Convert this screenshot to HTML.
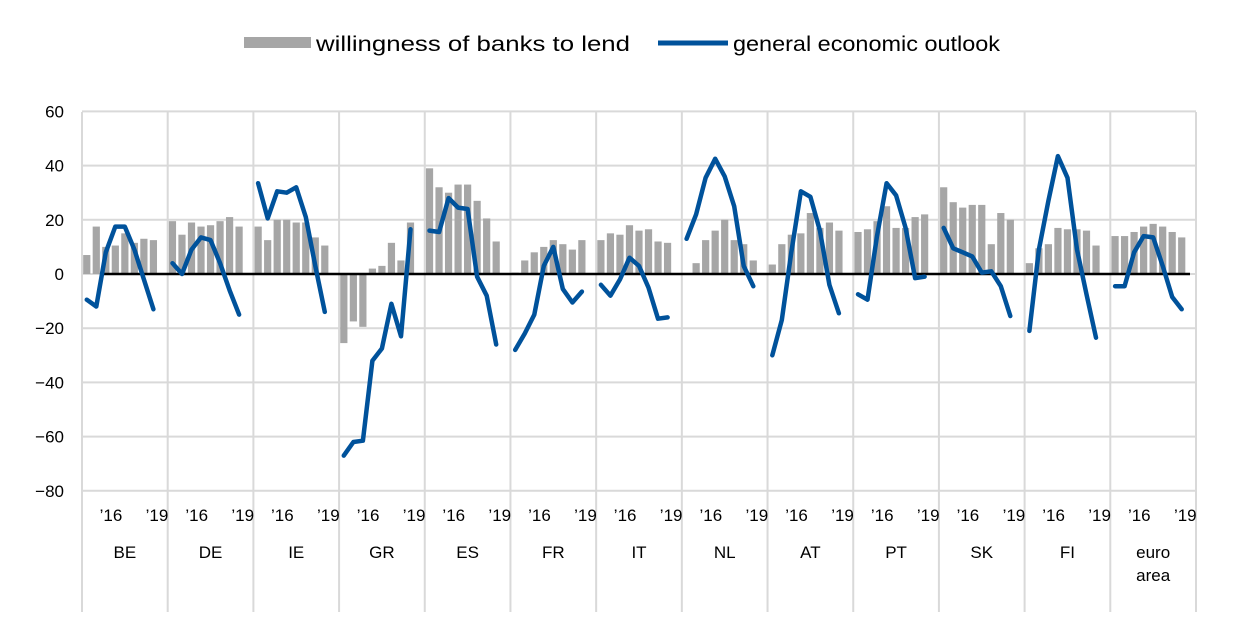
<!DOCTYPE html>
<html><head><meta charset="utf-8"><style>
html,body{margin:0;padding:0;background:#fff;}
svg{display:block;font-family:"Liberation Sans",Arial,sans-serif;}
</style></head><body>
<svg id="c" width="1240" height="638" xmlns="http://www.w3.org/2000/svg">
<rect width="1240" height="638" fill="#fff"/>
<rect x="244" y="37" width="67" height="11" fill="#a6a6a6"/>
<text x="316" y="51" font-size="21" fill="#000" textLength="314" lengthAdjust="spacingAndGlyphs">willingness of banks to lend</text>
<line x1="658" y1="43" x2="728" y2="43" stroke="#00529b" stroke-width="5"/>
<text x="733" y="51" font-size="21" fill="#000" textLength="267" lengthAdjust="spacingAndGlyphs">general economic outlook</text>
<g id="g"></g>
</svg>
<script>
var g=document.getElementById('g'),s='';
function Y(v){return 274-v*2.71;}
var x0=82,gw=(1196-82)/13,sl=gw/9;
for(var v=60;v>=-80;v-=20){var y=Y(v);
 s+='<line x1="82" x2="1196" y1="'+y+'" y2="'+y+'" stroke="#d9d9d9" stroke-width="2"/>';
 s+='<text x="64" y="'+(y+6)+'" font-size="17" text-anchor="end">'+(v<0?'\u2212'+(-v):v)+'</text>';}
for(var i=0;i<=13;i++){var x=x0+i*gw;s+='<line x1="'+x+'" x2="'+x+'" y1="112" y2="612" stroke="#d9d9d9" stroke-width="2"/>';}
var names=['BE','DE','IE','GR','ES','FR','IT','NL','AT','PT','SK','FI','euro area'];
var bars=[[7,17.5,10,10.5,15,11.5,13,12.5],[19.5,14.5,19,17.5,18,19.5,21,17.5],[17.5,12.5,20,20,19,19,13.5,10.5],[-25.5,-17.5,-19.5,2,3,11.5,5,19],[39,32,30,33,33,27,20.5,12],[0.5,5,8,10,12.5,11,9,12.5],[12.5,15,14.5,18,16,16.5,12,11.5],[0,4,12.5,16,20,12.5,11,5],[3.5,11,14.5,15,22.5,17,19,16],[15.5,16.5,19.5,25,17,17,21,22],[32,26.5,24.5,25.5,25.5,11,22.5,20],[4,9.5,11,17,16.5,16.5,16,10.5],[14,14,15.5,17.5,18.5,17.5,15.5,13.5]];
var lines=[[-9.5,-12,8,17.5,17.5,9,-2,-13],[4,0,9,13.5,12.5,4,-6,-15],[33.5,20.5,30.5,30,32,21,3,-14],[-67,-62,-61.5,-32,-27.5,-11,-23,16.5],[16,15.5,28,24.5,24,-1,-8,-26],[-28,-22,-15,3,10,-5.5,-10.5,-6.5],[-4,-8,-2,6,3,-5,-16.5,-16],[13,22,35.5,42.5,36,25,3,-4.5],[-30,-17,8,30.5,28.5,16,-4,-14.5],[-7.5,-9.5,14,33.5,29,17,-1.5,-1],[17,9.5,8,6.5,0.5,1,-4.5,-15.5],[-21,9,27,43.5,35.5,9,-7.5,-23.5],[-4.5,-4.5,8,14,13.5,3,-8.5,-13]];
var ls='';
for(var k=0;k<13;k++){var gx=x0+k*gw,p=[];
 for(var i=0;i<8;i++){var cx=gx+(i+0.5)*sl,v=bars[k][i];
  if(v!=0){var y1=Y(Math.max(v,0)),h=Math.abs(v)*2.71;s+='<rect x="'+(cx-3.6)+'" y="'+y1+'" width="7.2" height="'+h+'" fill="#a6a6a6"/>';}
  p.push(cx.toFixed(1)+','+Y(lines[k][i]).toFixed(1));}
 ls+='<polyline points="'+p.join(' ')+'" fill="none" stroke="#00529b" stroke-width="4.5" stroke-linejoin="round" stroke-linecap="round"/>';
 s+='<text x="'+(gx+29)+'" y="521" font-size="17" text-anchor="middle">\u201916</text>';
 s+='<text x="'+(gx+75)+'" y="521" font-size="17" text-anchor="middle">\u201919</text>';
 if(k<12)s+='<text x="'+(gx+gw/2)+'" y="558" font-size="17" text-anchor="middle">'+names[k]+'</text>';
 else{s+='<text x="'+(gx+gw/2)+'" y="558" font-size="17" text-anchor="middle">euro</text><text x="'+(gx+gw/2)+'" y="581" font-size="17" text-anchor="middle">area</text>';}
}
s+='<line x1="100" x2="1190" y1="274" y2="274" stroke="#000" stroke-width="2.5"/>';
g.innerHTML=s+ls;
</script>
</body></html>
